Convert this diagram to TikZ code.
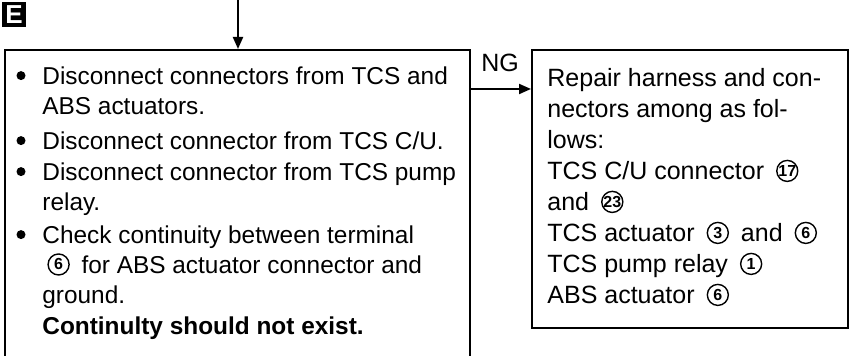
\documentclass[tikz,border=0pt]{standalone}
\usepackage{fontspec}
\setmainfont{Liberation Sans}
\usetikzlibrary{arrows.meta, positioning}

% circled number, as in the repair list
\newcommand{\cnum}[1]{\hspace{2.5pt}\tikz[baseline={([yshift=-4.3pt]cn.center)}]\node[circle, draw, line width=0.7pt, inner sep=0pt, minimum size=10.5pt, font=\bfseries\fontsize{8}{8}\selectfont] (cn) {#1};\hspace{2.5pt}}

\begin{document}
\begin{tikzpicture}[
    x=0.5pt, y=-0.5pt,
    panel/.style={rectangle, draw, line width=1pt, anchor=north west, inner sep=0pt},
    item/.style={anchor=north west, align=left, inner sep=0pt, font=\fontsize{12.2}{15}\selectfont},
    dot/.style={circle, fill, inner sep=0pt, minimum size=4.5pt},
    arrow/.style={-{Triangle[length=6pt, width=5pt]}, line width=1pt},
]
\useasboundingbox (0,0) rectangle (859,356);
\clip (0,0) rectangle (859,356);

% step label
\node[fill=black, text=white, inner sep=0pt, minimum width=12pt, minimum height=12.5pt, font=\bfseries\fontsize{13}{13}\selectfont] (tag) at (14,15) {E};

% boxes
\node[panel, minimum width=232.5pt, minimum height=170pt] (check) at (4,49) {};
\node[panel, minimum width=158pt, minimum height=139pt] (repair) at (531,49) {};

% left box text
\node[item] (i1) at (42,66) {Disconnect connectors from TCS and\\ABS actuators.};
\node[item] (i2) at (42,131) {Disconnect connector from TCS C/U.};
\node[item] (i3) at (42,162) {Disconnect connector from TCS pump\\relay.};
\node[item] (i4) at (42,225) {Check continuity between terminal\\
\cnum{6}\ for ABS actuator connector and\\ground.};
\node[item, font=\bfseries\fontsize{12.2}{15}\selectfont] (res) at (42,316) {Continulty should not exist.};
\foreach \i in {i1,i2,i3,i4}
  \node[dot] at ([xshift=-10.5pt, yshift=-4.8pt]\i.north west) {};

% right box text
\node[item, font=\fontsize{12.5}{15.5}\selectfont] (list) at (547,68) {Repair harness and con-\\nectors among as fol-\\lows:\\
TCS C/U connector \cnum{17}\\and \cnum{23}\\TCS actuator \cnum{3} and \cnum{6}\\
TCS pump relay \cnum{1}\\ABS actuator \cnum{6}};

% connectors
\coordinate (in) at (238,0);
\coordinate (ng) at (469,89);
\draw[arrow] (in) -- (in |- check.north);
\draw[arrow] (ng) -- node[above=5pt, font=\fontsize{12.5}{15}\selectfont] (nglab) {NG} (ng -| repair.west);

\end{tikzpicture}
\end{document}
